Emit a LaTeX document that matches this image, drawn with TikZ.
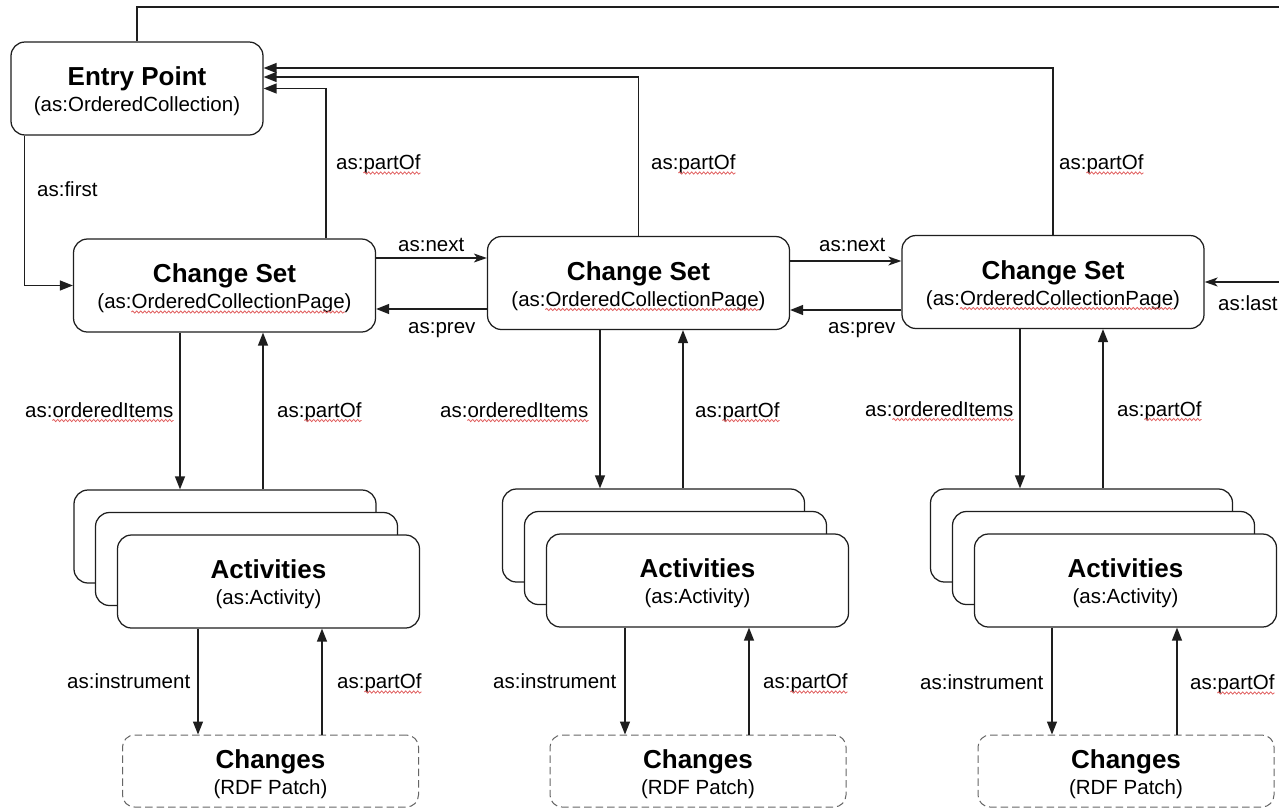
\documentclass[tikz,border=0pt]{standalone}
\usepackage{fontspec}
\setmainfont{Liberation Sans}
\usetikzlibrary{arrows.meta,calc,decorations.pathmorphing}
\definecolor{wavecol}{RGB}{225,95,95}
\definecolor{linecol}{RGB}{30,30,30}
\newcommand\boxlabel[3]{%
  \node[titletext] (#1t) at ($(#1.center)+(0,-3)$) {#2};
  \node[subtext] (#1s) at ($(#1.center)+(0,23)$) {#3};}
% wavy underline under a node's text from left offset #2 to right offset #3
\newcommand\squig[3]{%
  \draw[wave] ([xshift=#2pt,yshift=-3.5pt]#1.base west) -- ([xshift=-#3pt,yshift=-3.5pt]#1.base east);}
\tikzset{
  box/.style={draw=linecol, line width=1.25pt, rounded corners=14pt, minimum width=302pt, minimum height=93pt, inner sep=0pt, fill=white},
  chg/.style={draw=black!60, line width=1pt, dash pattern=on 7.5pt off 4pt, rounded corners=12pt, minimum width=296pt, minimum height=72pt, inner sep=0pt, fill=white},
  titletext/.style={anchor=base, inner sep=0pt, font={\fontsize{26pt}{30pt}\selectfont\bfseries}},
  subtext/.style={anchor=base, inner sep=0pt, font={\fontsize{20.5pt}{24pt}\selectfont}},
  lab/.style={anchor=base west, inner sep=0pt, font={\fontsize{20.5pt}{24pt}\selectfont}},
  arr/.style={draw=linecol, line width=1.3pt, -{Triangle[length=13pt,width=10pt]}},
  arrs/.style={draw=linecol, line width=1.3pt, -{Stealth[length=13pt,width=9pt,inset=3.5pt]}},
  wave/.style={draw=wavecol, line width=0.8pt, decorate, decoration={snake, amplitude=1.1pt, segment length=4pt}}
}
\begin{document}
\begin{tikzpicture}[x=1pt,y=-1pt]
\useasboundingbox (0,0) rectangle (1279,809);
\clip (0,0) rectangle (1279,809);
\fill[white] (0,0) rectangle (1279,809);

% main boxes
\node[box, minimum width=252pt] (ep) at (137,88.5) {};
\node[box] (cs1) at (224.5,285.5) {};
\node[box] (cs2) at (638.5,283) {};
\node[box] (cs3) at (1053,282) {};
\boxlabel{ep}{Entry Point}{(as:OrderedCollection)}
\boxlabel{cs1}{Change Set}{(as:OrderedCollectionPage)}
\boxlabel{cs2}{Change Set}{(as:OrderedCollectionPage)}
\boxlabel{cs3}{Change Set}{(as:OrderedCollectionPage)}
\squig{cs1s}{34.2}{6.8}
\squig{cs2s}{34.2}{6.8}
\squig{cs3s}{34.2}{6.8}

% activity stacks
\node[box] (a1b) at (225,536.5) {};
\node[box] (a1m) at (246.5,559) {};
\node[box] (a1f) at (268.5,581.5) {};
\node[box] (a2b) at (653.5,535.5) {};
\node[box] (a2m) at (675.5,558) {};
\node[box] (a2f) at (697.5,580.5) {};
\node[box] (a3b) at (1081.5,535.5) {};
\node[box] (a3m) at (1103.5,558) {};
\node[box] (a3f) at (1125.5,580.5) {};
\boxlabel{a1f}{Activities}{(as:Activity)}
\boxlabel{a2f}{Activities}{(as:Activity)}
\boxlabel{a3f}{Activities}{(as:Activity)}

% changes
\node[chg] (ch1) at (270.5,771) {};
\node[chg] (ch2) at (698,771) {};
\node[chg] (ch3) at (1126,771) {};
\boxlabel{ch1}{Changes}{(RDF Patch)}
\boxlabel{ch2}{Changes}{(RDF Patch)}
\boxlabel{ch3}{Changes}{(RDF Patch)}

% entry point connectors
\draw[arr] ([xshift=14pt]ep.south west) |- (cs1.west);
\draw[arr] ([xshift=101.5pt]cs1.north) |- (ep.east);
\draw[arr] (cs2.north) |- ([yshift=11.5pt]ep.east);
\draw[arr] (cs3.north) |- ([yshift=20.5pt]ep.east);
\coordinate (tr) at (1300,7);
\draw[arrs] (ep.north) |- (tr) |- (cs3.east);

% next / prev
\draw[arrs] ([yshift=27.5pt]cs1.east) -- ([yshift=27.5pt]cs1.east -| cs2.west);
\draw[arr] ([yshift=-26pt]cs2.west) -- ([yshift=-26pt]cs2.west -| cs1.east);
\draw[arrs] ([yshift=22pt]cs2.east) -- ([yshift=22pt]cs2.east -| cs3.west);
\draw[arr] ([yshift=-28pt]cs3.west) -- ([yshift=-28pt]cs3.west -| cs2.east);

% column 1
\draw[arr] ([xshift=-44.5pt]cs1.south) -- ([xshift=-44.5pt]cs1.south |- a1b.north);
\draw[arr] ([xshift=38pt]a1b.north) -- ([xshift=38pt]a1b.north |- cs1.south);
\draw[arr] ([xshift=-70.5pt]a1f.south) -- ([xshift=-70.5pt]a1f.south |- ch1.north);
\draw[arr] ([xshift=51.5pt]ch1.north) -- ([xshift=51.5pt]ch1.north |- a1f.south);
% column 2
\draw[arr] ([xshift=-38.5pt]cs2.south) -- ([xshift=-38.5pt]cs2.south |- a2b.north);
\draw[arr] ([xshift=29.5pt]a2b.north) -- ([xshift=29.5pt]a2b.north |- cs2.south);
\draw[arr] ([xshift=-72.5pt]a2f.south) -- ([xshift=-72.5pt]a2f.south |- ch2.north);
\draw[arr] ([xshift=51pt]ch2.north) -- ([xshift=51pt]ch2.north |- a2f.south);
% column 3
\draw[arr] ([xshift=-33pt]cs3.south) -- ([xshift=-33pt]cs3.south |- a3b.north);
\draw[arr] ([xshift=21.5pt]a3b.north) -- ([xshift=21.5pt]a3b.north |- cs3.south);
\draw[arr] ([xshift=-73.5pt]a3f.south) -- ([xshift=-73.5pt]a3f.south |- ch3.north);
\draw[arr] ([xshift=51pt]ch3.north) -- ([xshift=51pt]ch3.north |- a3f.south);

% labels
\node[lab] (lfirst) at (37,196.5) {as:first};
\node[lab] (lp1) at (336,169.5) {as:partOf};
\node[lab] (lp2) at (651,169.5) {as:partOf};
\node[lab] (lp3) at (1059,169.5) {as:partOf};
\node[lab] (ln1) at (398,251) {as:next};
\node[lab] (lpr1) at (408,333) {as:prev};
\node[lab] (ln2) at (819,251) {as:next};
\node[lab] (lpr2) at (828,333) {as:prev};
\node[lab] (llast) at (1218,310) {as:last};
\node[lab] (lo1) at (25,417) {as:orderedItems};
\node[lab] (lq1) at (277,417) {as:partOf};
\node[lab] (lo2) at (440,417) {as:orderedItems};
\node[lab] (lq2) at (695,417) {as:partOf};
\node[lab] (lo3) at (865,416) {as:orderedItems};
\node[lab] (lq3) at (1117,416) {as:partOf};
\node[lab] (li1) at (67,688.5) {as:instrument};
\node[lab] (lr1) at (337,688.5) {as:partOf};
\node[lab] (li2) at (493,688.5) {as:instrument};
\node[lab] (lr2) at (763,688.5) {as:partOf};
\node[lab] (li3) at (920,689.5) {as:instrument};
\node[lab] (lr3) at (1190,689.5) {as:partOf};
\foreach \n in {lp1,lp2,lp3,lo1,lq1,lo2,lq2,lo3,lq3,lr1,lr2,lr3} {\squig{\n}{27.4}{0}}
\end{tikzpicture}
\end{document}
